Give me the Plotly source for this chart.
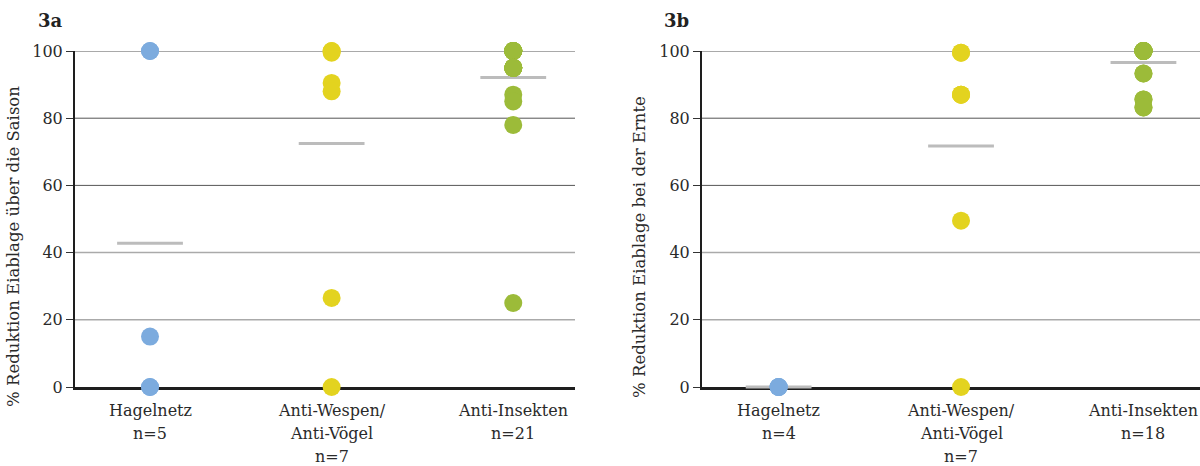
import plotly.graph_objects as go

categories_a = ["Hagelnetz<br>n=5", "Anti-Wespen/<br>Anti-Vögel<br>n=7", "Anti-Insekten<br>n=21"]
categories_b = ["Hagelnetz<br>n=4", "Anti-Wespen/<br>Anti-Vögel<br>n=7", "Anti-Insekten<br>n=18"]

# 3a: Reduktion Eiablage über die Saison (%)
hagel_a = [100, 100, 15, 0, 0]
wespen_a = [100, 100, 99.5, 90.5, 88, 26.5, 0]
insekten_a = [100] * 9 + [95] * 8 + [87, 85, 78, 25]
means_a = [42.8, 72.5, 92.1]

# 3b: Reduktion Eiablage bei der Ernte (%)
hagel_b = [0, 0, 0, 0]
wespen_b = [99.5, 99.5, 87, 87, 87, 49.5, 0]
insekten_b = [100] * 12 + [93.3] * 2 + [85.6] * 2 + [83.2] * 2
means_b = [0, 71.7, 96.6]

y_ticks = [0, 20, 40, 60, 80, 100]
dark_grid = [60, 80, 100]
light_grid = [20, 40]

colors = ["#7cabde", "#e3d31f", "#9cbb39"]
mean_color = "#bcbcbc"
FONT = "DejaVu Serif"
TEXT = "#2a2a2a"

fig = go.Figure()

panels = [
    ("x", "y", [hagel_a, wespen_a, insekten_a], means_a, categories_a),
    ("x2", "y2", [hagel_b, wespen_b, insekten_b], means_b, categories_b),
]

annotations = []
for xa, ya, groups, means, cats in panels:
    fig.add_trace(go.Scatter(
        x=list(range(len(means))), y=means, mode="markers", xaxis=xa, yaxis=ya,
        marker=dict(symbol="line-ew", size=47, line=dict(width=3, color=mean_color)),
        cliponaxis=False, showlegend=False, hoverinfo="y",
    ))
    for i, vals in enumerate(groups):
        fig.add_trace(go.Scatter(
            x=[i] * len(vals), y=vals, mode="markers", xaxis=xa, yaxis=ya,
            marker=dict(size=18, color=colors[i], line=dict(width=0)),
            cliponaxis=False, showlegend=False, hoverinfo="y",
        ))
    # category labels, one annotation per text line
    ydom = "y domain" if ya == "y" else "y2 domain"
    for i, cat in enumerate(cats):
        for k, line in enumerate(cat.split("<br>")):
            annotations.append(dict(
                text=line, x=i, y=0, xref=xa, yref=ydom,
                xanchor="center", yanchor="top", yshift=-12 - 23 * k,
                showarrow=False, font=dict(family=FONT, size=16, color=TEXT),
            ))
    xdom = "x domain" if xa == "x" else "x2 domain"
    for g in dark_grid:
        fig.add_shape(type="line", xref=xdom, yref=ya, x0=0, x1=1, y0=g, y1=g,
                      line=dict(color="#555555", width=1), layer="below")
    for g in light_grid:
        fig.add_shape(type="line", xref=xdom, yref=ya, x0=0, x1=1, y0=g, y1=g,
                      line=dict(color="#aaaaaa", width=1.5), layer="below")

axis_font = dict(family=FONT, size=16, color=TEXT)

xcommon = dict(
    tickmode="array", tickvals=[0, 1, 2], showgrid=False, zeroline=False,
    showline=True, linecolor="#1e1e1e", linewidth=2.5, ticks="",
    showticklabels=False, layer="below traces", automargin=False, fixedrange=True,
)
ycommon = dict(
    range=[0, 100], tickvals=y_ticks, showgrid=False,
    zeroline=False, showline=True, linecolor="#1e1e1e", linewidth=2,
    ticks="outside", ticklen=7, tickcolor="#333333", tickwidth=1,
    tickfont=axis_font, layer="below traces", fixedrange=True, automargin=False,
)

annotations += [
    dict(text="<b>3a</b>", x=36 / 1200, y=1.0, xref="paper", yref="paper",
         xanchor="left", yanchor="bottom", yshift=18, showarrow=False,
         font=dict(family=FONT, size=18, color="#222")),
    dict(text="<b>3b</b>", x=662 / 1200, y=1.0, xref="paper", yref="paper",
         xanchor="left", yanchor="bottom", yshift=18, showarrow=False,
         font=dict(family=FONT, size=18, color="#222")),
    dict(text="% Reduktion Eiablage über die Saison", textangle=-90,
         x=14 / 1200, y=0.417, xref="paper", yref="paper",
         xanchor="center", yanchor="middle", showarrow=False,
         font=dict(family=FONT, size=16.5, color=TEXT)),
    dict(text="% Reduktion Eiablage bei der Ernte", textangle=-90,
         x=640 / 1200, y=0.417, xref="paper", yref="paper",
         xanchor="center", yanchor="middle", showarrow=False,
         font=dict(family=FONT, size=16.5, color=TEXT)),
]

fig.update_layout(
    width=1200, height=466,
    margin=dict(l=0, r=0, t=51, b=79),
    plot_bgcolor="white", paper_bgcolor="white",
    xaxis=dict(domain=[75 / 1200, 575 / 1200], range=[-0.413, 2.34], anchor="y", **xcommon),
    yaxis=dict(anchor="x", **ycommon),
    xaxis2=dict(domain=[702 / 1200, 1.0], range=[-0.42, 2.31], anchor="y2", **xcommon),
    yaxis2=dict(anchor="x2", **ycommon),
    annotations=annotations,
)

fig.write_html("out.html", config={"displayModeBar": False},
               post_script="document.body.style.margin='0px';")
